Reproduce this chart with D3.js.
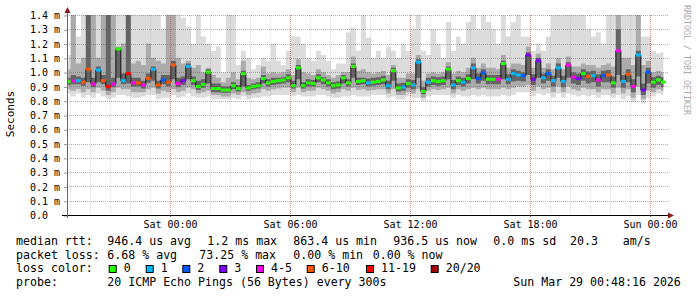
<!DOCTYPE html>
<html>
<head>
<meta charset="utf-8">
<script src="https://cdn.jsdelivr.net/npm/d3@7"></script>
<style>
  body { margin: 0; background: #fff; }
  svg { display: block; }
  text { font-family: "DejaVu Sans Mono", monospace; white-space: pre; }
</style>
</head>
<body>
<svg id="chart" width="697" height="297"></svg>
<script>
// one sample every 15 minutes, first one Fri 18:55 UTC; all values in microseconds
var median = [
  933, 938, 940, 930, 1020, 917, 1015, 940, 898, 917, 1162, 940, 990, 925, 925, 910, 957, 1020, 910, 945, 930, 1050, 920, 940, 1040, 940, 900, 915, 1000, 885, 885,
  875, 875, 905, 885, 990, 890, 900, 905, 955, 925, 935, 940, 945, 960, 905, 1030, 905, 925, 920, 960, 945, 925, 905, 910, 960, 925, 1040, 935, 940,
  925, 930, 935, 945, 905, 1010, 890, 895, 920, 910, 1070, 865, 930, 940, 935, 940, 1020, 910, 940, 930, 955, 1030, 955, 995, 950, 950, 950, 1060, 950, 990,
  980, 975, 1120, 950, 1080, 960, 990, 940, 1030, 935, 1050, 965, 955, 990, 970, 975, 945, 975, 980, 925, 1150, 935, 985, 900, 1120, 875, 1000, 930, 945, 930
];
// loss class per sample (index into lossColors)
var loss = [
  0, 4, 1, 5, 5, 4, 1, 5, 6, 4, 0, 1, 6, 4, 5, 4, 5, 1, 5, 2, 5, 5, 4, 3, 1, 0, 0, 0, 0, 0, 0,
  0, 0, 0, 0, 0, 0, 0, 0, 0, 0, 0, 0, 0, 0, 0, 0, 0, 0, 0, 0, 0, 0, 0, 0, 0, 0, 0, 0, 0,
  1, 0, 0, 0, 1, 0, 0, 1, 0, 1, 1, 0, 1, 0, 0, 0, 0, 1, 0, 1, 0, 1, 2, 2, 0, 0, 4, 0, 1, 1,
  1, 2, 3, 3, 3, 1, 2, 1, 1, 1, 4, 4, 3, 0, 5, 1, 4, 2, 5, 0, 4, 1, 5, 4, 1, 3, 2, 0, 0, 0
];
// smoke: spread of the 20 pings per sample
var smokeMax = [
  1120, 1500, 1250, 1500, 1500, 1500, 1500, 1500, 1500, 1500, 1500, 1500, 1500, 1500, 1500, 1500, 1500, 1500, 1500, 1300, 1500, 1500, 1500, 1380, 1320, 1200, 1500, 1250, 1200, 1150, 1180,
  1000, 1450, 1500, 1050, 1150, 1100, 1020, 1050, 1100, 1080, 1200, 1080, 1050, 1150, 1250, 1250, 1200, 1100, 1080, 1150, 1120, 1080, 1020, 1060, 1060, 1280, 1310, 1150, 1500,
  1240, 1100, 1150, 1100, 1180, 1150, 1100, 1200, 1150, 1300, 1500, 1150, 1120, 1300, 1200, 1100, 1350, 1150, 1250, 1200, 1350, 1500, 1300, 1500, 1350, 1300, 1200, 1500, 1250, 1350,
  1500, 1250, 1250, 1150, 1200, 1150, 1250, 1500, 1500, 1500, 1500, 1500, 1500, 1400, 1300, 1250, 1280, 1200, 1500, 1500, 1500, 1500, 1500, 1500, 1500, 1250, 1250, 1150, 1130, 1140
];
var smokeP90 = [
  1020, 1500, 1060, 1100, 1500, 1500, 1100, 1500, 1500, 1500, 1180, 1200, 1500, 1060, 1080, 1050, 1200, 1100, 1080, 1060, 1500, 1500, 1100, 1060, 1080, 1030, 1050, 1000, 1030, 980, 960,
  930, 960, 1000, 950, 1080, 960, 950, 960, 1040, 990, 1000, 990, 1000, 1020, 980, 1090, 1000, 990, 980, 1020, 1000, 980, 960, 980, 1000, 1000, 1110, 1010, 1020,
  1000, 990, 1000, 1010, 980, 1050, 960, 960, 990, 990, 1120, 940, 990, 1000, 990, 1000, 1070, 990, 1010, 1000, 1030, 1100, 1030, 1060, 1030, 1030, 1020, 1120, 1030, 1060,
  1060, 1050, 1180, 1030, 1130, 1030, 1060, 1020, 1100, 1020, 1110, 1040, 1040, 1060, 1050, 1050, 1030, 1050, 1060, 1040, 1500, 1100, 1100, 1050, 1500, 1050, 1080, 1000, 1010, 1000
];
var smokeQ3 = [
  960, 980, 970, 960, 1500, 960, 1040, 980, 1500, 960, 1170, 990, 1500, 960, 960, 940, 990, 1040, 940, 980, 980, 1080, 960, 970, 1060, 970, 940, 950, 1020, 920, 920,
  900, 900, 930, 910, 1010, 910, 920, 930, 980, 950, 960, 960, 965, 985, 940, 1050, 930, 950, 945, 985, 965, 950, 930, 935, 980, 950, 1060, 960, 960,
  955, 960, 965, 975, 940, 1030, 920, 925, 950, 945, 1090, 895, 960, 970, 965, 970, 1040, 945, 970, 960, 985, 1060, 990, 1020, 980, 980, 980, 1080, 985, 1020,
  1010, 1000, 1140, 985, 1100, 990, 1020, 975, 1060, 975, 1070, 1000, 990, 1020, 1005, 1010, 985, 1010, 1015, 970, 1300, 980, 1020, 950, 1150, 920, 1030, 965, 975, 965
];
var smokeQ1 = [
  910, 915, 915, 905, 930, 895, 930, 915, 870, 895, 960, 915, 920, 900, 900, 885, 925, 940, 885, 915, 900, 950, 895, 910, 950, 910, 875, 890, 920, 860, 860,
  855, 855, 880, 865, 900, 870, 880, 885, 920, 900, 910, 915, 920, 930, 885, 950, 885, 900, 900, 930, 915, 900, 880, 885, 920, 900, 960, 910, 915,
  900, 905, 910, 915, 880, 940, 865, 870, 890, 880, 960, 845, 900, 910, 905, 910, 950, 880, 910, 900, 920, 950, 920, 940, 915, 915, 915, 950, 915, 935,
  940, 935, 980, 910, 960, 920, 940, 900, 960, 895, 960, 920, 910, 940, 920, 930, 900, 930, 930, 890, 980, 890, 930, 860, 970, 840, 920, 890, 910, 895
];
var smokeP10 = [
  880, 870, 880, 860, 880, 860, 890, 870, 840, 860, 890, 880, 880, 860, 860, 860, 880, 890, 850, 870, 860, 880, 860, 870, 890, 880, 850, 860, 870, 840, 840,
  830, 830, 850, 840, 860, 840, 850, 855, 880, 870, 880, 885, 890, 890, 860, 890, 860, 870, 870, 890, 880, 870, 850, 860, 880, 870, 890, 875, 880,
  870, 875, 880, 880, 850, 880, 840, 840, 860, 850, 880, 820, 870, 880, 875, 880, 890, 850, 880, 870, 880, 890, 880, 890, 880, 880, 880, 890, 880, 890,
  900, 900, 910, 870, 900, 880, 890, 860, 900, 860, 900, 880, 870, 890, 880, 880, 860, 880, 880, 850, 890, 850, 880, 820, 900, 810, 870, 860, 880, 870
];
var smokeMin = [
  850, 830, 850, 820, 840, 820, 850, 830, 810, 820, 840, 840, 830, 820, 820, 830, 840, 840, 810, 820, 820, 840, 820, 830, 850, 830, 820, 820, 830, 810, 810,
  810, 810, 820, 810, 830, 810, 820, 820, 830, 830, 840, 840, 840, 840, 830, 840, 830, 830, 830, 840, 840, 830, 820, 820, 830, 830, 840, 830, 830,
  830, 840, 840, 840, 820, 830, 810, 810, 830, 820, 820, 800, 830, 840, 840, 840, 840, 820, 840, 830, 830, 840, 830, 840, 830, 830, 830, 840, 830, 840,
  860, 860, 860, 830, 850, 840, 850, 820, 850, 820, 850, 840, 830, 840, 830, 840, 820, 840, 840, 820, 840, 810, 830, 790, 840, 780, 820, 830, 850, 840
];

var lossColors = ["#26ff00", "#00b8ff", "#0059ff", "#7e00ff", "#ff00ea", "#ff5500", "#ff0000", "#a10000"];
var lossLabels = ["0", "1", "2", "3", "4-5", "6-10", "11-19", "20/20"];
var yTicks = [0, 0.1, 0.2, 0.3, 0.4, 0.5, 0.6, 0.7, 0.8, 0.9, 1.0, 1.1, 1.2, 1.3, 1.4];

var rttLine = [[16, "median rtt:"], [107.3, "946.4 us avg"], [207.3, "1.2 ms max"], [293.3, "863.4 us min"],
               [393.3, "936.5 us now"], [493.3, "0.0 ms sd"], [570, "20.3"], [622.7, "am/s"]];
var lossLine = [[16, "packet loss:"], [107.3, "6.68 % avg"], [199.3, "73.25 % max"], [293.3, "0.00 % min"], [372.7, "0.00 % now"]];
var probeLine = [[16, "probe:"], [107.3, "20 ICMP Echo Pings (56 Bytes) every 300s"], [513.3, "Sun Mar 29 00:48:16 2026"]];

var start = Date.UTC(2026, 2, 27, 18, 51),
    end = Date.UTC(2026, 2, 29, 0, 51),
    step = 15 * 60 * 1000,
    first = Date.UTC(2026, 2, 27, 18, 55);

var rows = median.map(function(m, i) {
  return {t: new Date(first + i * step), med: m / 1000, loss: loss[i],
          min: smokeMin[i] / 1000, p10: smokeP10[i] / 1000, q1: smokeQ1[i] / 1000,
          q3: smokeQ3[i] / 1000, p90: smokeP90[i] / 1000, max: smokeMax[i] / 1000};
});

var svg = d3.select("#chart");
// plot box (note: "top" is reserved on window, so prefixed names)
var plotL = 67, plotR = 667, plotT = 15, plotB = 215;

var x = d3.scaleUtc().domain([new Date(start), new Date(end)]).range([plotL, plotR]);
var y = d3.scaleLinear().domain([0, 1.4]).range([plotB, plotT]);

svg.append("rect").attr("width", 697).attr("height", 297).attr("fill", "#fff");

svg.append("clipPath").attr("id", "plot")
  .append("rect").attr("x", plotL).attr("y", plotT).attr("width", plotR - plotL).attr("height", plotB - plotT);

var g = svg.append("g").attr("clip-path", "url(#plot)");

// smoke, outer to inner
function band(lo, hi) {
  return d3.area().curve(d3.curveStep)
    .x(function(d) { return x(d.t); })
    .y0(function(d) { return y(d[lo]); })
    .y1(function(d) { return y(d[hi]); });
}
g.append("path").datum(rows).attr("fill", "#dcdcdc").attr("d", band("min", "max"));
g.append("path").datum(rows).attr("fill", "#ababab").attr("d", band("p10", "p90"));
g.append("path").datum(rows).attr("fill", "#646464").attr("d", band("q1", "q3"));

// median
g.append("path").datum(rows)
  .attr("fill", "none").attr("stroke", "#111").attr("stroke-width", 1)
  .attr("d", d3.line().curve(d3.curveStep).x(function(d) { return x(d.t); }).y(function(d) { return y(d.med); }));

var w = x(new Date(first + step)) - x(new Date(first));
g.selectAll("rect.med").data(rows).enter().append("rect")
  .attr("class", "med")
  .attr("x", function(d) { return x(d.t) - w / 2; })
  .attr("y", function(d) { return y(d.med) - 1.5; })
  .attr("width", w).attr("height", 3)
  .attr("fill", function(d) { return lossColors[d.loss]; });

// grid
var grid = svg.append("g");
grid.selectAll("line.minor").data(x.ticks(d3.utcHour.every(1))).enter().append("line")
  .attr("x1", function(d) { return x(d) + 0.5; }).attr("x2", function(d) { return x(d) + 0.5; })
  .attr("y1", plotT).attr("y2", plotB)
  .attr("stroke", "rgba(170,140,140,0.35)").attr("stroke-dasharray", "1,1");
grid.selectAll("line.major").data(x.ticks(d3.utcHour.every(6))).enter().append("line")
  .attr("x1", function(d) { return x(d) + 0.5; }).attr("x2", function(d) { return x(d) + 0.5; })
  .attr("y1", plotT).attr("y2", plotB)
  .attr("stroke", "rgba(190,60,60,0.5)").attr("stroke-dasharray", "1,1");
grid.selectAll("line.h").data(yTicks.slice(1)).enter().append("line")
  .attr("x1", plotL).attr("x2", plotR + 1)
  .attr("y1", function(d) { return Math.round(y(d)) + 0.5; }).attr("y2", function(d) { return Math.round(y(d)) + 0.5; })
  .attr("stroke", "rgba(190,60,60,0.5)").attr("stroke-dasharray", "1,1");

// axes
var yAxis = svg.append("g").attr("transform", "translate(" + plotL + ",0.5)")
  .call(d3.axisLeft(y).tickValues(yTicks).tickSize(3)
    .tickFormat(function(d) { return d === 0 ? "0.0" : d.toFixed(1) + " m"; }));
yAxis.select(".domain").remove();
yAxis.selectAll("line").attr("stroke", "#999");
yAxis.selectAll("text").attr("x", -37).attr("text-anchor", "start")
  .attr("font-size", "10px").attr("font-family", "DejaVu Sans Mono").attr("fill", "#000");

var xAxis = svg.append("g").attr("transform", "translate(0," + plotB + ")")
  .call(d3.axisBottom(x).ticks(d3.utcHour.every(6)).tickSize(2).tickPadding(4)
    .tickFormat(d3.utcFormat("%a %H:%M")));
xAxis.select(".domain").remove();
xAxis.selectAll("line").attr("stroke", "#777");
xAxis.selectAll("text").attr("font-size", "10px").attr("font-family", "DejaVu Sans Mono").attr("fill", "#000");

svg.append("line").attr("x1", 62).attr("x2", 670).attr("y1", plotB + 0.5).attr("y2", plotB + 0.5)
  .attr("stroke", "#000");
svg.append("line").attr("x1", plotL + 0.5).attr("x2", plotL + 0.5).attr("y1", plotB + 3).attr("y2", 11)
  .attr("stroke", "#666");
svg.append("path").attr("d", "M668,212.5L674,215.5L668,218.5Z").attr("fill", "#8b1a1a");
svg.append("path").attr("d", "M64.5,13L67.5,7L70.5,13Z").attr("fill", "#8b1a1a");

svg.append("text").attr("transform", "translate(14,114) rotate(-90)")
  .attr("text-anchor", "middle").attr("font-size", "11px").attr("fill", "#000").text("Seconds");

svg.append("text").attr("transform", "translate(684,5) rotate(90)")
  .attr("font-size", "8.3px").attr("fill", "#aaa").text("RRDTOOL / TOBI OETIKER");

// legend
function textRow(items, base) {
  svg.append("g").selectAll("text").data(items).enter().append("text")
    .attr("x", function(d) { return d[0]; }).attr("y", base)
    .attr("font-size", "11.6px").attr("fill", "#000")
    .text(function(d) { return d[1]; });
}
textRow(rttLine, 245);
textRow(lossLine, 258.7);
textRow([[16, "loss color:"]], 272.4);
textRow(probeLine, 286);

var swatchX = [108.7, 145.7, 182.3, 219.3, 256, 306.7, 366, 430.7];
var sw = svg.append("g").selectAll("g").data(lossLabels).enter().append("g");
sw.append("rect")
  .attr("x", function(d, i) { return swatchX[i] + 0.5; }).attr("y", 265.5)
  .attr("width", 7).attr("height", 7)
  .attr("fill", function(d, i) { return lossColors[i]; }).attr("stroke", "#000");
sw.append("text")
  .attr("x", function(d, i) { return swatchX[i] + 15; }).attr("y", 272.4)
  .attr("font-size", "11.6px").attr("fill", "#000")
  .text(function(d) { return d; });
</script>
</body>
</html>
